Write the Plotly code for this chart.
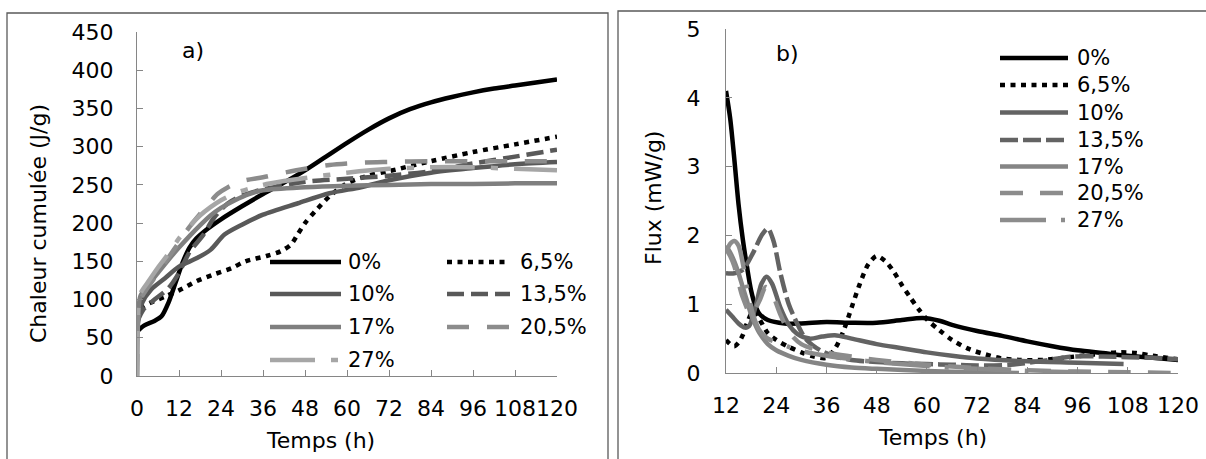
import plotly.graph_objects as go

W, H = 1206, 459

# ---- a) cumulative heat (J/g) vs time (h) ----
series_names = ["0%", "6,5%", "10%", "13,5%", "17%", "20,5%", "27%"]

a_t_0 = [0, 2, 5, 7, 9, 11, 13, 15, 17, 20, 24, 30, 36, 42, 48, 54, 60, 66, 72, 78, 84, 90, 96, 102, 108, 114, 120]
a_q_0 = [58, 66, 72, 78, 96, 122, 148, 168, 180, 192, 205, 222, 238, 253, 269, 287, 305, 322, 337, 349, 358, 365, 371, 376, 380, 384, 388]

a_t_65 = [0, 1, 4, 8, 12, 17, 22, 27, 31, 37, 41, 44, 46, 48, 51, 55, 60, 66, 72, 84, 96, 108, 120]
a_q_65 = [75, 88, 96, 104, 112, 124, 133, 141, 150, 157, 163, 172, 186, 200, 216, 235, 252, 262, 268, 281, 293, 303, 313]

a_t_10 = [0, 1.5, 4, 8, 12, 17, 21, 25, 30, 36, 46, 55, 64, 72, 84, 96, 108, 120]
a_q_10 = [62, 96, 113, 128, 143, 154, 165, 185, 198, 211, 226, 239, 247, 256, 266, 272, 277, 280]

a_t_135 = [0, 2, 5, 9, 12, 15, 19, 22, 26, 30, 36, 48, 60, 72, 84, 96, 108, 120]
a_q_135 = [70, 88, 100, 115, 135, 162, 185, 207, 226, 236, 244, 254, 258, 262, 268, 278, 287, 296]

a_t_17 = [0, 0.4, 1, 3, 6, 9, 12, 15, 18, 21, 24, 28, 32, 36, 48, 60, 72, 84, 96, 108, 120]
a_q_17 = [0, 85, 105, 118, 135, 152, 168, 183, 197, 210, 220, 230, 238, 243, 247, 249, 250, 251, 251, 252, 252]

a_t_205 = [0, 0.4, 1, 3, 6, 9, 12, 15, 18, 21, 23, 26, 30, 36, 41, 48, 55, 64, 72, 84, 96, 108, 120]
a_q_205 = [0, 80, 100, 115, 135, 155, 175, 195, 212, 228, 238, 247, 255, 260, 265, 271, 276, 279, 280, 281, 281, 281, 281]

a_t_27 = [0, 0.4, 1, 3, 6, 9, 12, 15, 18, 21, 24, 28, 32, 36, 42, 48, 60, 72, 84, 96, 108, 120]
a_q_27 = [0, 90, 108, 122, 142, 160, 180, 196, 210, 221, 230, 239, 245, 250, 255, 259, 266, 271, 273, 273, 271, 269]

# ---- b) heat flow (mW/g) vs time (h) ----
b_t_0 = [12, 13, 14, 15, 16, 17, 18, 19, 20, 22, 26, 30, 36, 42, 48, 54, 59, 63, 66, 72, 78, 84, 90, 96, 102, 108, 114, 120]
b_f_0 = [4.1, 3.7, 3.1, 2.45, 1.95, 1.55, 1.2, 0.98, 0.86, 0.77, 0.72, 0.72, 0.74, 0.73, 0.73, 0.77, 0.80, 0.76, 0.70, 0.61, 0.54, 0.46, 0.39, 0.33, 0.29, 0.25, 0.22, 0.19]

b_t_65 = [12, 13, 14, 15, 16, 17, 18.5, 20, 22, 24, 27, 30, 33, 36, 38, 40, 42, 44, 46, 48, 50, 52, 54, 56, 58, 60, 63, 66, 70, 74, 78, 82, 88, 94, 100, 106, 110, 114, 120]
b_f_65 = [0.48, 0.42, 0.39, 0.44, 0.55, 0.72, 0.90, 0.78, 0.58, 0.48, 0.38, 0.30, 0.24, 0.22, 0.35, 0.60, 0.95, 1.30, 1.58, 1.70, 1.63, 1.48, 1.28, 1.10, 0.93, 0.78, 0.62, 0.48, 0.35, 0.27, 0.21, 0.19, 0.19, 0.23, 0.27, 0.30, 0.29, 0.25, 0.20]

b_t_10 = [12, 13.5, 15, 16.5, 17.5, 19, 20.5, 21.7, 23, 25, 27, 29, 32, 35, 38, 42, 48, 54, 60, 66, 72, 84, 96, 107]
b_f_10 = [0.92, 0.82, 0.72, 0.66, 0.68, 0.95, 1.30, 1.40, 1.30, 0.95, 0.70, 0.57, 0.50, 0.53, 0.55, 0.50, 0.42, 0.36, 0.30, 0.25, 0.21, 0.17, 0.15, 0.13]

b_t_135 = [12, 14, 16, 18.5, 20.5, 22, 23.3, 25, 27, 29, 31, 34.5, 38, 42, 48, 54, 60, 66, 72, 80, 88, 95, 102, 108, 114, 120]
b_f_135 = [1.45, 1.45, 1.50, 1.75, 2.0, 2.1, 1.93, 1.45, 1.0, 0.72, 0.50, 0.33, 0.24, 0.19, 0.16, 0.14, 0.13, 0.12, 0.11, 0.12, 0.18, 0.24, 0.24, 0.23, 0.22, 0.20]

b_t_17 = [12, 13, 14, 15, 16, 17, 18, 19, 20, 22, 24, 27, 30, 36, 42, 48, 60, 72, 82]
b_f_17 = [1.85, 1.75, 1.62, 1.45, 1.25, 1.05, 0.85, 0.70, 0.58, 0.42, 0.33, 0.25, 0.19, 0.12, 0.08, 0.06, 0.03, 0.01, 0.0]

b_t_205 = [12, 13, 14, 16, 18, 20, 21.5, 23, 25, 27, 30, 36, 42, 48, 60, 72, 84, 96, 108, 120]
b_f_205 = [1.80, 1.70, 1.55, 1.10, 0.85, 1.05, 1.25, 1.15, 0.85, 0.60, 0.42, 0.30, 0.24, 0.19, 0.12, 0.07, 0.04, 0.02, 0.01, 0.0]

b_t_27 = [12, 13, 14, 15, 16, 17, 18, 19, 20, 22, 24, 27, 30, 36, 42, 48, 60, 72, 84, 96]
b_f_27 = [1.75, 1.88, 1.92, 1.85, 1.60, 1.25, 0.95, 0.75, 0.62, 0.50, 0.45, 0.38, 0.32, 0.25, 0.20, 0.16, 0.10, 0.06, 0.03, 0.01]

a_data = [(a_t_0, a_q_0), (a_t_65, a_q_65), (a_t_10, a_q_10), (a_t_135, a_q_135),
          (a_t_17, a_q_17), (a_t_205, a_q_205), (a_t_27, a_q_27)]
b_data = [(b_t_0, b_f_0), (b_t_65, b_f_65), (b_t_10, b_f_10), (b_t_135, b_f_135),
          (b_t_17, b_f_17), (b_t_205, b_f_205), (b_t_27, b_f_27)]

# line styles per series (colour, dash) for each panel
a_styles = [("#000000", "solid"), ("#000000", "5px,5.5px"), ("#595959", "solid"),
            ("#595959", "17px,7px"), ("#7f7f7f", "solid"), ("#8c8c8c", "22px,18px"),
            ("#a6a6a6", "45px,16px,7px,16px")]
b_styles = [("#000000", "solid"), ("#000000", "5px,5.5px"), ("#636363", "solid"),
            ("#636363", "18px,5px"), ("#858585", "solid"), ("#8c8c8c", "23px,17px"),
            ("#8c8c8c", "46px,15px,4px,15px")]

FONT = "DejaVu Sans"
FS = 22
LW = 4.5
BLACK = "#000000"
AXIS_GREY = "#868686"

fig = go.Figure()
for name, (t, q), (c, d) in zip(series_names, a_data, a_styles):
    fig.add_trace(go.Scatter(x=t, y=q, name=name, mode="lines", showlegend=False,
                             line=dict(color=c, dash=d, width=LW, shape="spline", smoothing=0.8),
                             xaxis="x", yaxis="y"))
for name, (t, f), (c, d) in zip(series_names, b_data, b_styles):
    fig.add_trace(go.Scatter(x=t, y=f, name=name, mode="lines", showlegend=False,
                             line=dict(color=c, dash=d, width=LW, shape="spline", smoothing=0.8),
                             xaxis="x2", yaxis="y2"))


def px_x(p):
    return p / W


def px_y(p):
    return 1 - p / H


axis_common = dict(showgrid=False, zeroline=False, showline=True, linecolor=AXIS_GREY,
                   linewidth=1.3, ticks="inside", ticklen=6, tickcolor=AXIS_GREY,
                   tickwidth=1.3, tickangle=0,
                   tickfont=dict(family=FONT, size=FS, color=BLACK))

shapes = [
    # frames around the two panels
    dict(type="rect", xref="paper", yref="paper", x0=px_x(7), x1=px_x(608),
         y0=-0.2, y1=px_y(13), line=dict(color="#5a5a5a", width=1.3), layer="below"),
    dict(type="rect", xref="paper", yref="paper", x0=px_x(618), x1=1.2,
         y0=-0.2, y1=px_y(11), line=dict(color="#5a5a5a", width=1.3), layer="below"),
]
annotations = []


def text_ann(txt, x, y, size=FS, xanchor="center", angle=0):
    return dict(text=txt, xref="paper", yref="paper", x=px_x(x), y=px_y(y),
                xanchor=xanchor, yanchor="middle", showarrow=False, textangle=angle,
                font=dict(family=FONT, size=size, color=BLACK))


# legend of panel a): two columns, filled row by row
a_leg_rows = [262, 294, 327, 360]
a_leg_cols = [(270, 341, 346), (447, 510, 518)]
for i, (name, (c, d)) in enumerate(zip(series_names, a_styles)):
    r, col = divmod(i, 2)
    x0, x1, xt = a_leg_cols[col]
    y = a_leg_rows[r]
    shapes.append(dict(type="line", xref="paper", yref="paper", x0=px_x(x0), x1=px_x(x1),
                       y0=px_y(y), y1=px_y(y), line=dict(color=c, dash=d, width=LW)))
    annotations.append(text_ann(name, xt, y, size=21, xanchor="left"))

# legend of panel b): one column
b_leg_rows = [58, 85, 112.5, 140, 166.5, 193, 220]
for name, (c, d), y in zip(series_names, b_styles, b_leg_rows):
    shapes.append(dict(type="line", xref="paper", yref="paper", x0=px_x(1000), x1=px_x(1068),
                       y0=px_y(y), y1=px_y(y), line=dict(color=c, dash=d, width=LW)))
    annotations.append(text_ann(name, 1075, y, size=21, xanchor="left"))

# panel tags and axis titles
annotations += [
    text_ann("a)", 193, 50),
    text_ann("b)", 787, 53),
    text_ann("Temps (h)", 320, 440),
    text_ann("Temps (h)", 932, 437),
    text_ann("Chaleur cumulée (J/g)", 38, 224, angle=-90),
    text_ann("Flux (mW/g)", 653, 198, angle=-90),
]

fig.update_layout(
    width=W, height=H,
    margin=dict(l=0, r=0, t=0, b=0, autoexpand=False),
    paper_bgcolor="white", plot_bgcolor="white",
    font=dict(family=FONT, color=BLACK),
    showlegend=False,
    xaxis=dict(domain=[px_x(137), px_x(557)], range=[0, 120], dtick=12, tick0=0,
               anchor="y", ticklabelstandoff=12, **axis_common),
    yaxis=dict(domain=[px_y(376), px_y(32)], range=[0, 450], dtick=50, tick0=0,
               anchor="x", ticklabelstandoff=18, **axis_common),
    xaxis2=dict(domain=[px_x(726), px_x(1178)], range=[12, 120], dtick=12, tick0=12,
                anchor="y2", ticklabelstandoff=12, **axis_common),
    yaxis2=dict(domain=[px_y(373), px_y(29)], range=[0, 5], dtick=1, tick0=0,
                anchor="x2", ticklabelstandoff=20, **axis_common),
    shapes=shapes,
    annotations=annotations,
)

fig.write_html("out.html")
